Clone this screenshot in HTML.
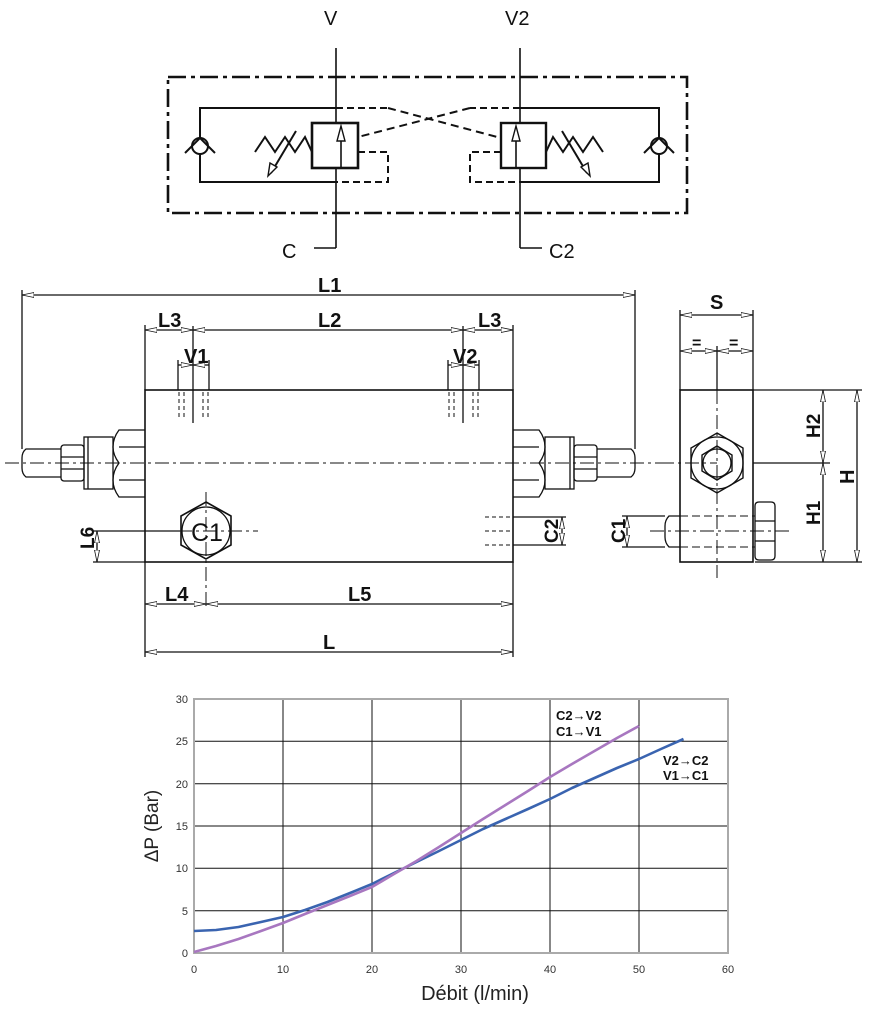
<!DOCTYPE html>
<html><head><meta charset="utf-8"><style>
body{margin:0;background:#fff}
svg{display:block}
text{font-family:"Liberation Sans",sans-serif}
.d{font-size:20px;fill:#111;font-weight:bold}
</style></head><body>
<svg width="870" height="1011" viewBox="0 0 870 1011" xmlns="http://www.w3.org/2000/svg">
<defs>
<marker id="a" viewBox="0 0 12 6" refX="12" refY="3" markerWidth="12" markerHeight="6" orient="auto-start-reverse" markerUnits="userSpaceOnUse"><path d="M0,0.5 L12,3 L0,5.5 Z" fill="#fff" stroke="#111" stroke-width="0.8"/></marker>
</defs>

<!-- ===== Hydraulic schematic ===== -->
<g fill="none" stroke="#111">
<rect x="168" y="77" width="519" height="136" stroke-width="2.6" stroke-dasharray="18,5,4,5"/>
<line x1="336" y1="48" x2="336" y2="248" stroke-width="1.6"/>
<polyline points="336,248 314,248" stroke-width="1.6"/>
<line x1="520" y1="48" x2="520" y2="248" stroke-width="1.6"/>
<polyline points="520,248 542,248" stroke-width="1.6"/>
<g stroke-width="2">
<polyline points="336,108 200,108 200,182 336,182"/>
<polyline points="336,108 388,108" stroke-dasharray="7,4"/>
<polyline points="358,152 388,152 388,182 336,182" stroke-dasharray="7,4"/>
<line x1="388" y1="108" x2="501" y2="138" stroke-dasharray="8,5"/>
<line x1="470" y1="108" x2="358" y2="137" stroke-dasharray="8,5"/>
<polyline points="520,108 659,108 659,182 520,182"/>
<polyline points="520,108 470,108" stroke-dasharray="7,4"/>
<polyline points="501,152 470,152 470,182 520,182" stroke-dasharray="7,4"/>
<rect x="312" y="123" width="46" height="45" stroke-width="2.6" fill="#fff"/>
<rect x="501" y="123" width="45" height="45" stroke-width="2.4" fill="#fff"/>
<circle cx="200" cy="146" r="8" fill="#fff"/>
<polyline points="185,153 200,138 215,153"/>
<circle cx="659" cy="146" r="8" fill="#fff"/>
<polyline points="644,153 659,138 674,153"/>
<polyline points="255,152 265,137 275,152 285,137 295,152 305,137 312,152"/>
<line x1="296" y1="131" x2="271" y2="173"/>
<polyline points="546,152 553,137 563,152 573,137 583,152 593,137 603,152"/>
<line x1="562" y1="131" x2="587" y2="173"/>
</g>
<path d="M268,176 L270,163 L277,167 Z" fill="#fff" stroke-width="1.4"/>
<path d="M590,176 L588,163 L581,167 Z" fill="#fff" stroke-width="1.4"/>
<line x1="341" y1="168" x2="341" y2="140" stroke-width="1.6"/>
<path d="M337,141 L341,126 L345,141 Z" fill="#fff" stroke-width="1.4"/>
<line x1="516" y1="168" x2="516" y2="140" stroke-width="1.6"/>
<path d="M512,141 L516,126 L520,141 Z" fill="#fff" stroke-width="1.4"/>
</g>
<text x="324" y="25" font-size="20" fill="#111">V</text>
<text x="505" y="25" font-size="20" fill="#111">V2</text>
<text x="282" y="258" font-size="20" fill="#111">C</text>
<text x="549" y="258" font-size="20" fill="#111">C2</text>

<!-- ===== Front view ===== -->
<g fill="none" stroke="#111" stroke-width="1.3">
<rect x="145" y="390" width="368" height="172" stroke-width="1.6"/>
<path d="M145,430 L119,430 Q113,438 113,447 Q113,455 119,463 Q113,471 113,480 Q113,489 119,497 L145,497"/>
<line x1="119" y1="447" x2="145" y2="447"/><line x1="119" y1="480" x2="145" y2="480"/>
<rect x="84" y="437" width="29" height="52"/>
<line x1="88" y1="437" x2="88" y2="489"/>
<rect x="61" y="445" width="23" height="36" rx="3"/>
<line x1="61" y1="457" x2="84" y2="457"/><line x1="61" y1="469" x2="84" y2="469"/>
<path d="M61,449 L26,449 Q22,452 22,458 L22,468 Q22,474 26,477 L61,477"/>
<path d="M513,430 L539,430 Q545,438 545,447 Q545,455 539,463 Q545,471 545,480 Q545,489 539,497 L513,497"/>
<line x1="513" y1="447" x2="539" y2="447"/><line x1="513" y1="480" x2="539" y2="480"/>
<rect x="545" y="437" width="29" height="52"/>
<line x1="570" y1="437" x2="570" y2="489"/>
<rect x="574" y="445" width="23" height="36" rx="3"/>
<line x1="574" y1="457" x2="597" y2="457"/><line x1="574" y1="469" x2="597" y2="469"/>
<path d="M597,449 L631,449 Q635,452 635,458 L635,468 Q635,474 631,477 L597,477"/>
<line x1="5" y1="463" x2="660" y2="463" stroke-dasharray="14,4,3,4" stroke-width="1"/>
<line x1="660" y1="463" x2="717" y2="463" stroke-dasharray="14,4,3,4" stroke-width="1"/>
<line x1="22" y1="295" x2="635" y2="295" marker-start="url(#a)" marker-end="url(#a)"/>
<line x1="22" y1="290" x2="22" y2="449"/><line x1="635" y1="290" x2="635" y2="449"/>
<line x1="145" y1="325" x2="145" y2="390"/><line x1="513" y1="325" x2="513" y2="390"/>
<line x1="145" y1="330" x2="193" y2="330" marker-start="url(#a)" marker-end="url(#a)"/>
<line x1="193" y1="330" x2="463" y2="330" marker-start="url(#a)" marker-end="url(#a)"/>
<line x1="463" y1="330" x2="513" y2="330" marker-start="url(#a)" marker-end="url(#a)"/>
<line x1="193" y1="326" x2="193" y2="423"/><line x1="463" y1="326" x2="463" y2="423"/>
<line x1="178" y1="360" x2="178" y2="390"/><line x1="209" y1="360" x2="209" y2="390"/>
<line x1="178" y1="365" x2="193" y2="365" marker-end="url(#a)"/><line x1="209" y1="365" x2="193" y2="365" marker-end="url(#a)"/>
<line x1="448" y1="360" x2="448" y2="390"/><line x1="479" y1="360" x2="479" y2="390"/>
<line x1="448" y1="365" x2="463" y2="365" marker-end="url(#a)"/><line x1="479" y1="365" x2="463" y2="365" marker-end="url(#a)"/>
<g stroke-dasharray="4,3" stroke-width="1">
<path d="M179,392v25M184,392v25M203,392v25M208,392v25M449,392v25M454,392v25M473,392v25M478,392v25"/>
<path d="M485,517h28M485,531h28M485,545h28"/>
</g>
<polygon points="206,502 231,516 231,545 206,559 181,545 181,516" stroke-width="1.6"/>
<circle cx="206" cy="531" r="24"/>
<line x1="178" y1="531" x2="258" y2="531" stroke-dasharray="14,4,3,4" stroke-width="1"/>
<line x1="206" y1="492" x2="206" y2="610" stroke-dasharray="14,4,3,4" stroke-width="1"/>
<line x1="93" y1="531" x2="180" y2="531"/><line x1="93" y1="562" x2="145" y2="562"/>
<line x1="97" y1="546" x2="97" y2="531" marker-end="url(#a)"/><line x1="97" y1="546" x2="97" y2="562" marker-end="url(#a)"/>
<line x1="513" y1="517" x2="566" y2="517"/><line x1="513" y1="545" x2="566" y2="545"/>
<line x1="562" y1="531" x2="562" y2="517" marker-end="url(#a)"/><line x1="562" y1="531" x2="562" y2="545" marker-end="url(#a)"/>
<line x1="145" y1="562" x2="145" y2="657"/><line x1="513" y1="562" x2="513" y2="657"/>
<line x1="145" y1="604" x2="206" y2="604" marker-start="url(#a)" marker-end="url(#a)"/>
<line x1="206" y1="604" x2="513" y2="604" marker-start="url(#a)" marker-end="url(#a)"/>
<line x1="145" y1="652" x2="513" y2="652" marker-start="url(#a)" marker-end="url(#a)"/>

<!-- ===== Side view ===== -->
<rect x="680" y="390" width="73" height="172" stroke-width="1.6"/>
<line x1="680" y1="310" x2="680" y2="390"/><line x1="753" y1="310" x2="753" y2="390"/>
<line x1="680" y1="315" x2="753" y2="315" marker-start="url(#a)" marker-end="url(#a)"/>
<line x1="680" y1="351" x2="717" y2="351" marker-start="url(#a)" marker-end="url(#a)"/>
<line x1="717" y1="351" x2="753" y2="351" marker-start="url(#a)" marker-end="url(#a)"/>
<line x1="717" y1="346" x2="717" y2="390"/>
<line x1="717" y1="390" x2="717" y2="578" stroke-dasharray="14,4,3,4" stroke-width="1"/>
<polygon points="717,433 743,448 743,478 717,493 691,478 691,448" stroke-width="1.4"/>
<circle cx="717" cy="463" r="26"/>
<polygon points="717,446 732,455 732,471 717,480 702,471 702,455" stroke-width="1.4"/>
<circle cx="717" cy="463" r="14"/>
<line x1="753" y1="463" x2="830" y2="463"/>
<line x1="753" y1="390" x2="862" y2="390"/><line x1="755" y1="562" x2="862" y2="562"/>
<line x1="823" y1="426" x2="823" y2="390" marker-end="url(#a)"/><line x1="823" y1="426" x2="823" y2="463" marker-end="url(#a)"/>
<line x1="823" y1="512" x2="823" y2="463" marker-end="url(#a)"/><line x1="823" y1="512" x2="823" y2="562" marker-end="url(#a)"/>
<line x1="857" y1="476" x2="857" y2="390" marker-end="url(#a)"/><line x1="857" y1="476" x2="857" y2="562" marker-end="url(#a)"/>
<path d="M755,506 Q755,502 759,502 L771,502 Q775,502 775,506 L775,556 Q775,560 771,560 L759,560 Q755,560 755,556 Z M755,521h20M755,541h20"/>
<path d="M680,516 L669,516 Q665,520 665,526 L665,537 Q665,543 669,547 L680,547"/>
<g stroke-dasharray="8,4" stroke-width="1"><path d="M680,516h75M680,547h75"/></g>
<line x1="650" y1="531" x2="790" y2="531" stroke-dasharray="14,4,3,4" stroke-width="1"/>
<line x1="622" y1="516" x2="665" y2="516"/><line x1="622" y1="547" x2="665" y2="547"/>
<line x1="627" y1="531" x2="627" y2="516" marker-end="url(#a)"/><line x1="627" y1="531" x2="627" y2="547" marker-end="url(#a)"/>
</g>
<g class="d">
<text x="318" y="292">L1</text>
<text x="158" y="327">L3</text>
<text x="318" y="327">L2</text>
<text x="478" y="327">L3</text>
<text x="184" y="363">V1</text>
<text x="453" y="363">V2</text>
<text x="191" y="541" font-size="25" font-weight="normal">C1</text>
<text x="0" y="0" transform="translate(94,549) rotate(-90)" font-size="19">L6</text>
<text x="0" y="0" transform="translate(558,543) rotate(-90)" font-size="19">C2</text>
<text x="0" y="0" transform="translate(625,543) rotate(-90)" font-size="19">C1</text>
<text x="165" y="601">L4</text>
<text x="348" y="601">L5</text>
<text x="323" y="649">L</text>
<text x="710" y="309">S</text>
<text x="692" y="348" font-size="16">=</text>
<text x="729" y="348" font-size="16">=</text>
<text x="0" y="0" transform="translate(820,438) rotate(-90)" font-size="19">H2</text>
<text x="0" y="0" transform="translate(820,525) rotate(-90)" font-size="19">H1</text>
<text x="0" y="0" transform="translate(854,484) rotate(-90)" font-size="20">H</text>
</g>

<!-- ===== Chart ===== -->
<g stroke="#111" stroke-width="1">
<path d="M283,699V953M372,699V953M461,699V953M550,699V953M639,699V953"/>
<path d="M194,741.3H728M194,783.7H728M194,826H728M194,868.3H728M194,910.7H728"/>
</g>
<rect x="194" y="699" width="534" height="254" fill="none" stroke="#aaa" stroke-width="2"/>
<g font-size="11" fill="#333" text-anchor="end">
<text x="188" y="703">30</text><text x="188" y="745">25</text><text x="188" y="788">20</text>
<text x="188" y="830">15</text><text x="188" y="872">10</text><text x="188" y="915">5</text><text x="188" y="957">0</text>
</g>
<g font-size="11" fill="#333" text-anchor="middle">
<text x="194" y="973">0</text><text x="283" y="973">10</text><text x="372" y="973">20</text>
<text x="461" y="973">30</text><text x="550" y="973">40</text><text x="639" y="973">50</text><text x="728" y="973">60</text>
</g>
<polyline points="194,931 216,930 238.5,927 261,922 283,917 305,910 327.5,902 350,893 372,884 394,873 416.5,862 439,851 461,840 483,829 505.5,819 528,809 550,799 572,788 594.5,778 617,768 639,759 661,749 683.5,739" fill="none" stroke="#3a64b0" stroke-width="2.6" stroke-linejoin="round"/>
<polyline points="194,952 216,946 238.5,939 261,931 283,923 305,914 327.5,905 350,896 372,887 394,874 416.5,861 439,847 461,833 483,819 505.5,805 528,791 550,777 572,764 594.5,751 617,738 639,726" fill="none" stroke="#a877c0" stroke-width="2.6" stroke-linejoin="round"/>
<g font-size="13" font-weight="bold" fill="#111">
<text x="556" y="720">C2→V2</text>
<text x="556" y="736">C1→V1</text>
<text x="663" y="765">V2→C2</text>
<text x="663" y="780">V1→C1</text>
</g>
<text x="0" y="0" transform="translate(158,826) rotate(-90)" font-size="19" fill="#222" text-anchor="middle">ΔP (Bar)</text>
<text x="475" y="1000" font-size="20" fill="#222" text-anchor="middle">Débit (l/min)</text>
</svg>
</body></html>
